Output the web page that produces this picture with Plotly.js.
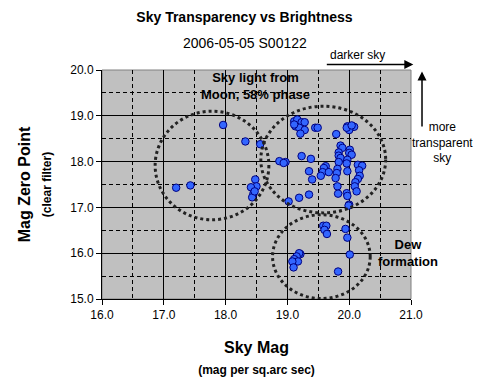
<!DOCTYPE html>
<html>
<head>
<meta charset="utf-8">
<script src="https://cdn.plot.ly/plotly-3.0.1.min.js"></script>
<style>html,body{margin:0;padding:0;background:#fff;}#chart{width:489px;height:391px;}</style>
</head>
<body>
<div id="chart"></div>
<script>
// Sky brightness (mag per sq.arc sec)
const skyMag = [
  17.20, 17.43, 17.96, 18.32, 18.56, 18.48, 18.50, 18.41, 18.45, 18.43, 18.47,
  19.11, 19.16, 19.23, 19.28, 19.13, 19.19, 19.28, 19.21, 19.11, 19.45, 19.49, 19.79,
  19.97, 20.02, 20.08, 20.00, 19.96, 20.04,
  18.87, 18.97, 18.94, 19.23, 19.38, 19.62, 19.59, 19.35, 19.57, 19.67, 19.54, 19.40,
  19.86, 19.89, 19.83, 20.01, 20.00, 20.04, 19.83, 19.86, 19.97, 19.83, 19.96, 20.14,
  20.21, 19.81, 19.80, 19.97, 20.16, 20.17, 20.14, 19.78, 20.10, 20.09, 19.81, 20.12,
  19.82, 19.96, 19.97, 19.35, 19.19, 19.02, 20.00, 19.99,
  19.58, 19.63, 19.60, 19.64, 19.94, 19.97, 20.01, 19.82, 19.21, 19.19, 19.15, 19.11,
  19.17, 19.08, 19.10
];
// Mag zero point (clear filter)
const zeroPoint = [
  17.43, 17.48, 18.80, 18.44, 18.38, 17.61, 17.46, 17.44, 17.30, 17.22, 17.35,
  18.88, 18.92, 18.86, 18.86, 18.77, 18.74, 18.69, 18.61, 18.81, 18.74, 18.74, 18.60,
  18.77, 18.74, 18.76, 18.69, 18.74, 18.79,
  18.01, 17.99, 17.97, 18.12, 18.06, 17.90, 17.86, 17.79, 17.77, 17.77, 17.69, 17.61,
  18.35, 18.30, 18.20, 18.26, 18.19, 18.15, 18.13, 18.08, 18.04, 17.99, 17.96, 17.93,
  17.91, 17.84, 17.75, 17.79, 17.81, 17.69, 17.62, 17.64, 17.55, 17.46, 17.46, 17.35,
  17.30, 17.31, 17.25, 17.28, 17.21, 17.13, 17.06, 17.04,
  16.60, 16.60, 16.51, 16.42, 16.53, 16.34, 15.97, 15.60, 15.98, 16.00, 15.93, 15.87,
  15.82, 15.82, 15.69
];
// Highlighted regions [x0, x1, y0, y1]
const regionNames = ["moon", "main", "dew"];
const regionX0 = [16.86, 18.57, 18.76];
const regionX1 = [18.70, 20.59, 20.34];
const regionY0 = [16.73, 16.88, 15.01];
const regionY1 = [19.10, 19.21, 16.84];
const xTicks = [16, 17, 18, 19, 20, 21];
const yTicks = [15, 16, 17, 18, 19, 20];

const FONT = "Arial, 'Liberation Sans', sans-serif";

const shapes = regionNames.map((n, i) => ({
  type: "circle", xref: "x", yref: "y",
  x0: regionX0[i], x1: regionX1[i], y0: regionY0[i], y1: regionY1[i],
  line: {color: "#222", width: 3, dash: "dot"}, layer: "above"
}));
shapes.push({type: "rect", xref: "paper", yref: "paper", x0: 0, x1: 1, y0: 0, y1: 1,
  line: {color: "#808080", width: 1}, layer: "below"});

const trace = {
  type: "scatter", mode: "markers", x: skyMag, y: zeroPoint,
  marker: {symbol: "circle", size: 7.5, color: "#3366FF", line: {color: "#000080", width: 1}},
  hoverinfo: "x+y", cliponaxis: false
};

const PW = 308.7, PB = 299, PH = 229, PL = 102;
const px = v => (v - PL) / PW;
const py = v => (PB - v) / PH;

const txt = (text, x, y, size) => ({text, x: px(x), y: py(y), xref: "paper", yref: "paper",
  xanchor: "center", yanchor: "middle", showarrow: false, align: "center",
  font: {family: FONT, size, color: "#000"}});

const layout = {
  width: 489, height: 391,
  margin: {l: 102, r: 78, t: 70, b: 92},
  paper_bgcolor: "#ffffff", plot_bgcolor: "#C0C0C0",
  showlegend: false,
  font: {family: FONT, size: 12, color: "#000"},
  title: {text: "<b>Sky Transparency vs Brightness</b>", font: {family: FONT, size: 14, color: "#000"},
    x: 0.5, xref: "container", xanchor: "center", y: 0.955, yref: "container", yanchor: "middle"},
  xaxis: {
    range: [16, 21], tickvals: xTicks, tickformat: ".1f",
    showgrid: true, gridcolor: "#000", gridwidth: 1,
    minor: {dtick: 0.5, showgrid: true, gridcolor: "#000", griddash: "4px,3px", gridwidth: 1},
    showline: true, linecolor: "#000", linewidth: 1,
    ticks: "outside", ticklen: 5, tickcolor: "#000",
    zeroline: false, tickfont: {family: FONT, size: 12, color: "#000"},
    title: {text: "<b>Sky Mag</b><br><span style='font-size:12px'><b>(mag per sq.arc sec)</b></span>",
      font: {family: FONT, size: 16, color: "#000"}, standoff: 20}
  },
  yaxis: {
    range: [15, 20], tickvals: yTicks, tickformat: ".1f",
    showgrid: true, gridcolor: "#000", gridwidth: 1,
    minor: {dtick: 0.5, showgrid: true, gridcolor: "#000", griddash: "4px,3px", gridwidth: 1},
    showline: true, linecolor: "#000", linewidth: 1,
    ticks: "outside", ticklen: 5, tickcolor: "#000",
    zeroline: false, tickfont: {family: FONT, size: 12, color: "#000"},
    title: {text: "<b>Mag Zero Point</b><br><span style='font-size:12px'><b>(clear filter)</b></span>",
      font: {family: FONT, size: 16, color: "#000"}, standoff: 14}
  },
  shapes: shapes,
  annotations: [
    txt("2006-05-05 S00122", 245, 43, 14),
    txt("<b>Sky light from<br>Moon, 58% phase</b>", 255, 86, 13),
    txt("<b>Dew<br>formation</b>", 408, 252.5, 13),
    txt("darker sky", 357, 55, 12),
    txt("more<br>transparent<br>sky", 441.7, 142, 12),
    {text: "", x: px(413), y: py(64.5), ax: -88, ay: 0, xref: "paper", yref: "paper",
      showarrow: true, arrowhead: 2, arrowsize: 1.2, arrowwidth: 1.5, arrowcolor: "#000"},
    {text: "", x: px(421.7), y: py(71.5), ax: 0, ay: 56.5, xref: "paper", yref: "paper",
      showarrow: true, arrowhead: 2, arrowsize: 1.2, arrowwidth: 1.5, arrowcolor: "#000"}
  ]
};

Plotly.newPlot("chart", [trace], layout, {displayModeBar: false, staticPlot: true});
</script>
</body>
</html>
